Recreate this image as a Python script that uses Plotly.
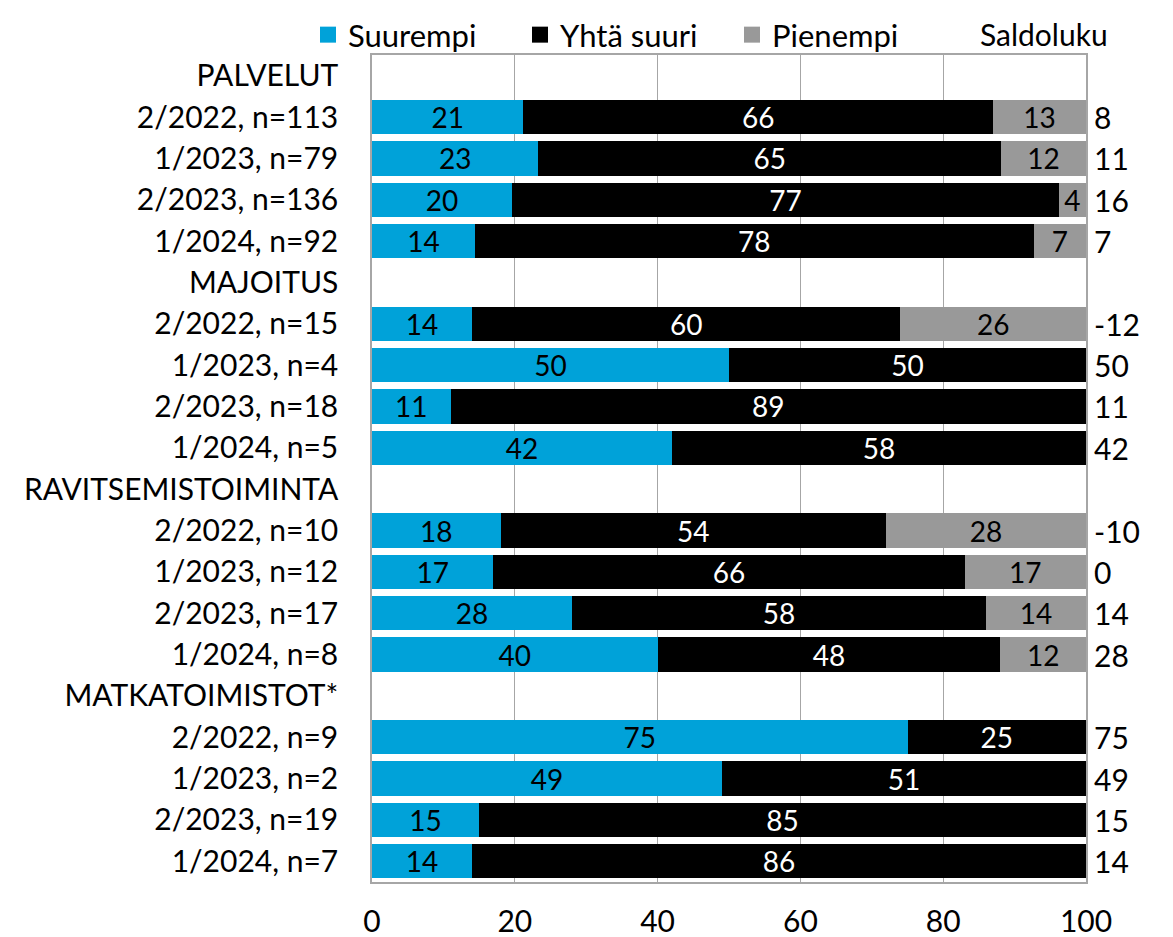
import plotly.graph_objects as go

categories = ["PALVELUT", "2/2022, n=113", "1/2023, n=79", "2/2023, n=136", "1/2024, n=92",
              "MAJOITUS", "2/2022, n=15", "1/2023, n=4", "2/2023, n=18", "1/2024, n=5",
              "RAVITSEMISTOIMINTA", "2/2022, n=10", "1/2023, n=12", "2/2023, n=17", "1/2024, n=8",
              "MATKATOIMISTOT*", "2/2022, n=9", "1/2023, n=2", "2/2023, n=19", "1/2024, n=7"]
suurempi = [None, 21.2, 23.3, 19.6, 14.4, None, 14, 50, 11, 42, None, 18, 17, 28, 40, None, 75, 49, 15, 14]
yhta_suuri = [None, 65.8, 64.8, 76.6, 78.3, None, 60, 50, 89, 58, None, 54, 66, 58, 48, None, 25, 51, 85, 86]
pienempi = [None, 13, 11.9, 3.8, 7.3, None, 26, 0, 0, 0, None, 28, 17, 14, 12, None, 0, 0, 0, 0]
saldoluku = [None, 8, 11, 16, 7, None, -12, 50, 11, 42, None, -10, 0, 14, 28, None, 75, 49, 15, 14]
x_ticks = [0, 20, 40, 60, 80, 100]

FONT = "Lato"
BLUE = "#00A2D9"
GRAY = "#999999"
ypos = list(range(len(categories)))

W, H = 1165, 929
ML, MR, MT, MB = 364, 87, 47, 55
plot_w = W - ML - MR
plot_h = H - MT - MB

def lbl(vals):
    return ["" if (v is None or v == 0) else f"{v:.0f}" for v in vals]

fig = go.Figure()
for name, vals, color, tcolor in [("Suurempi", suurempi, BLUE, "black"),
                                  ("Yhtä suuri", yhta_suuri, "black", "white"),
                                  ("Pienempi", pienempi, GRAY, "black")]:
    fig.add_trace(go.Bar(
        y=ypos, x=[v if v else None for v in vals], orientation="h", name=name,
        marker=dict(color=color, line=dict(width=0)), width=0.83,
        text=lbl(vals), textposition="inside", insidetextanchor="middle", textangle=0,
        textfont=dict(color=tcolor, size=28, family=FONT), showlegend=False,
        hoverinfo="skip"))

for name, color in [("Suurempi", BLUE), ("Yhtä suuri", "black"), ("Pienempi", GRAY)]:
    fig.add_trace(go.Scatter(
        x=[None], y=[None], mode="markers", name=name,
        marker=dict(symbol="square", size=18, color=color)))

for y, v in zip(ypos, saldoluku):
    if v is None:
        continue
    fig.add_annotation(x=100, y=y, xref="x", yref="y", text=str(v), showarrow=False,
                       xanchor="left", yanchor="middle", xshift=6,
                       font=dict(size=30, color="black", family=FONT))

fig.add_annotation(x=(970 - ML) / plot_w, y=1 + (MT - 26) / plot_h, xref="paper", yref="paper",
                   text="Saldoluku", showarrow=False, xanchor="left", yanchor="middle",
                   font=dict(size=30, color="black", family=FONT))

fig.update_layout(
    barmode="stack", width=W, height=H,
    margin=dict(l=ML, r=MR, t=MT, b=MB, autoexpand=False),
    plot_bgcolor="white", paper_bgcolor="white",
    font=dict(family=FONT, size=30, color="black"),
    uniformtext=dict(minsize=28, mode="show"),
    legend=dict(orientation="h", xref="paper", yref="paper",
                x=(300 - ML) / plot_w, xanchor="left", y=1 + MT / plot_h, yanchor="top",
                font=dict(size=31, family=FONT), entrywidth=167, entrywidthmode="pixels",
                itemsizing="trace", traceorder="normal", bgcolor="rgba(0,0,0,0)"),
    showlegend=True,
)
fig.update_xaxes(range=[0, 100], tickvals=x_ticks, ticktext=[str(t) for t in x_ticks],
                 showgrid=True, gridcolor="#A6A6A6", gridwidth=1,
                 showline=True, linecolor="#A6A6A6", linewidth=1.5, mirror=True,
                 zeroline=False, ticks="", ticklabelstandoff=12,
                 tickfont=dict(size=30, family=FONT))
fig.update_yaxes(range=[19.5, -0.5], tickvals=ypos, ticktext=categories,
                 showgrid=False, showline=True, linecolor="#A6A6A6", linewidth=1.5, mirror=True,
                 zeroline=False, ticks="", ticklabelstandoff=26,
                 tickfont=dict(size=30, family=FONT))

fig.write_html("out.html")
